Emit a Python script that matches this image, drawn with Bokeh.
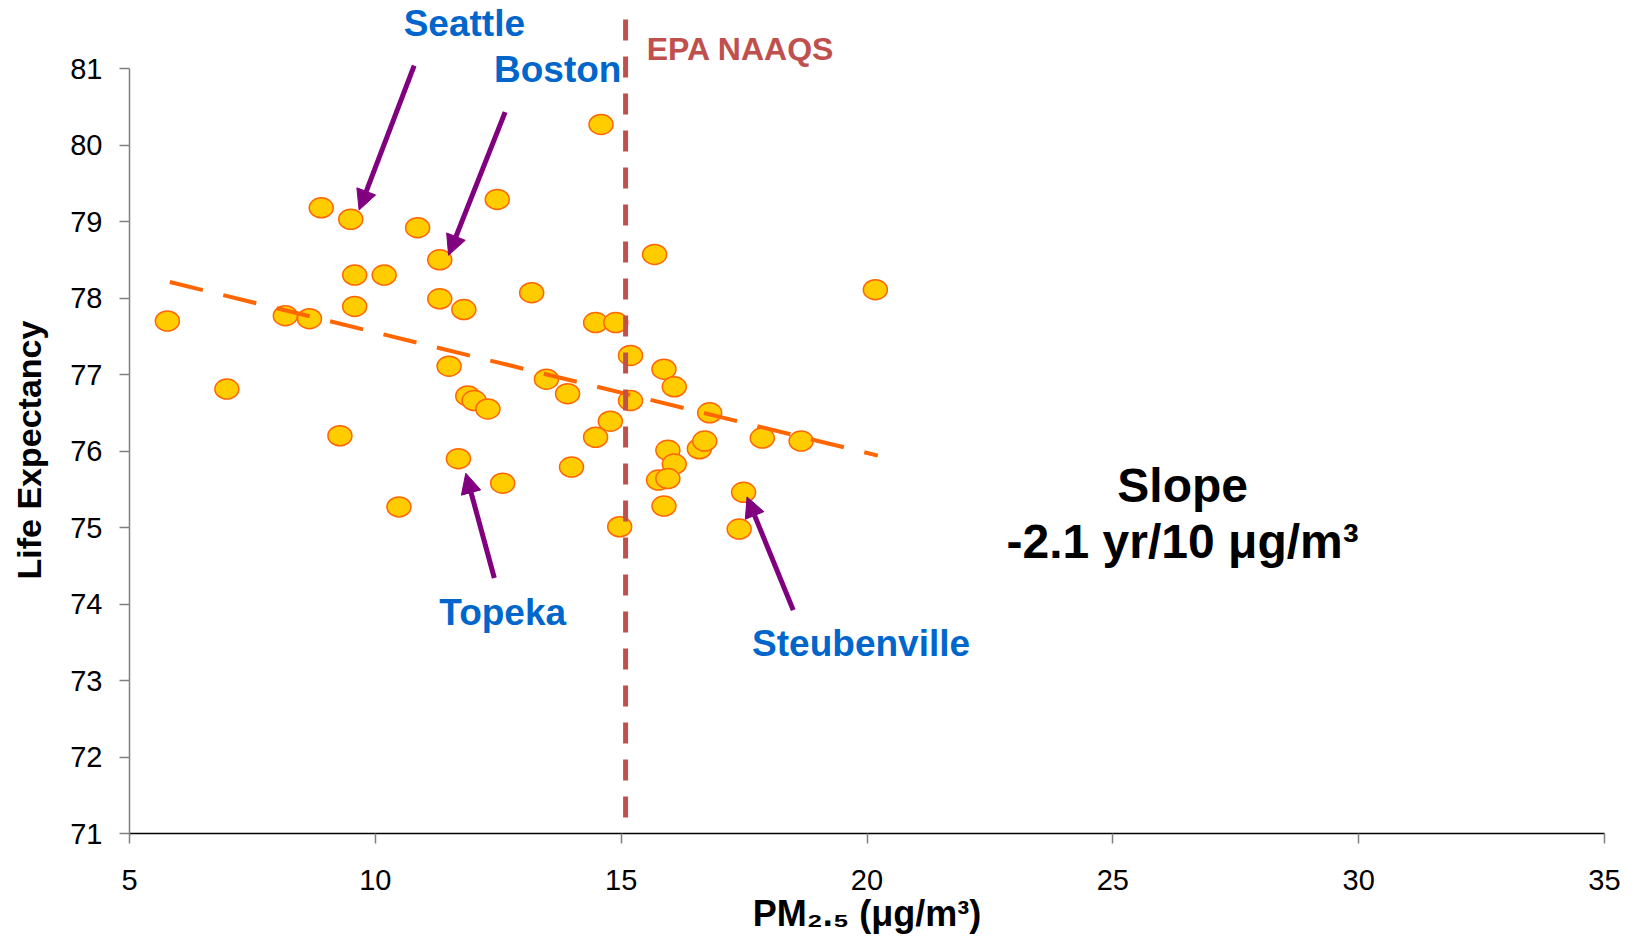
from bokeh.plotting import figure
from bokeh.models import ColumnDataSource, Range1d, FixedTicker, Arrow, NormalHead
from bokeh.core.properties import value
from bokeh.embed import file_html
from bokeh.resources import INLINE

# ---- data ----
pm25 = [5.77, 6.98, 8.17, 8.66, 8.90, 9.50, 9.58, 9.58, 9.28, 10.18,
        10.48, 10.86, 11.31, 11.31, 11.80, 11.50, 11.88, 12.01, 12.29, 11.69,
        12.48, 12.59, 13.18, 13.48, 13.91, 13.99, 14.59, 14.48, 14.89, 14.48,
        14.78, 15.19, 15.19, 14.97, 15.68, 15.87, 16.08, 15.95, 16.08, 15.76,
        15.95, 15.87, 16.59, 16.70, 16.80, 17.49, 17.40, 17.87, 18.66, 20.17]
life_exp = [77.70, 76.81, 77.77, 77.73, 79.18, 79.03, 78.30, 77.89, 76.20, 78.30,
            75.27, 78.92, 78.50, 77.99, 77.85, 77.11, 76.72, 76.66, 76.55, 75.90,
            79.29, 75.58, 78.07, 76.94, 76.75, 75.79, 80.27, 77.68, 77.68, 76.18,
            76.39, 77.25, 76.66, 75.01, 78.57, 77.07, 76.84, 76.01, 75.83, 75.62,
            75.64, 75.28, 76.03, 76.13, 76.50, 75.46, 74.98, 76.17, 76.13, 78.11]

trend_x = [5.82, 20.22]
trend_y = [78.21, 75.94]

naaqs_x = [15.09, 15.09]
naaqs_y = [81.64, 71.10]

x_ticks = [5, 10, 15, 20, 25, 30, 35]
y_ticks = [71, 72, 73, 74, 75, 76, 77, 78, 79, 80, 81]

city_names = ["Seattle", "Boston", "Topeka", "Steubenville"]
city_label_x = [11.81, 13.71, 12.59, 19.88]
city_label_y = [81.59, 80.99, 73.89, 73.49]
arrow_x0 = [10.79, 12.64, 12.42, 18.50]
arrow_y0 = [81.04, 80.43, 74.34, 73.92]
arrow_x1 = [9.67, 11.49, 11.84, 17.56]
arrow_y1 = [79.15, 78.56, 75.71, 75.40]

slope_lines = ["Slope", "-2.1 yr/10 μg/m³"]
slope_x = [26.42, 26.42]
slope_y = [75.55, 74.82]

naaqs_label = ["EPA NAAQS"]
naaqs_label_x = [17.43]
naaqs_label_y = [81.26]

FONT = "Liberation Sans"

p = figure(width=1636, height=938, output_backend="svg", toolbar_location=None,
           x_range=Range1d(5, 35), y_range=Range1d(71, 81.89),
           min_border_left=129, min_border_right=32, min_border_top=0,
           min_border_bottom=105)
p.outline_line_color = None
p.grid.visible = False
p.background_fill_color = "white"

# axes
p.xaxis.ticker = FixedTicker(ticks=x_ticks)
p.yaxis.ticker = FixedTicker(ticks=y_ticks)
p.xaxis.bounds = (5, 35)
p.yaxis.bounds = (71, 81)
for ax in (p.xaxis, p.yaxis):
    ax.major_tick_out = 10
    ax.major_tick_in = 0
    ax.minor_tick_line_color = None
    ax.major_tick_line_color = "#808080"
    ax.major_tick_line_width = 1.5
    ax.major_label_text_font = FONT
    ax.major_label_text_font_size = "29px"
    ax.major_label_text_color = "black"
    ax.axis_label_text_font = FONT
    ax.axis_label_text_font_style = "bold"
    ax.axis_label_text_color = "black"
p.yaxis.axis_line_color = "#808080"
p.yaxis.axis_line_width = 1.5
p.xaxis.axis_line_color = "black"
p.xaxis.axis_line_width = 1.5
p.yaxis.major_label_standoff = 17
p.xaxis.major_label_standoff = 26
# trailing no-break spaces keep the title centred on the 71-81 span of the axis
p.yaxis.axis_label = "Life Expectancy" + "\u00a0" * 7
p.yaxis.axis_label_text_font_size = "34px"
p.yaxis.axis_label_standoff = 19
p.xaxis.axis_label = "PM₂.₅ (μg/m³)"
p.xaxis.axis_label_text_font_size = "36px"
p.xaxis.axis_label_standoff = 0

# points
pts = ColumnDataSource(dict(x=pm25, y=life_exp))
p.ellipse(x="x", y="y", width=24, height=20, width_units="screen", height_units="screen",
          source=pts, fill_color="#FFCC00", line_color="#FF6600", line_width=1.5)

# trend line
p.line(trend_x, trend_y, line_color="#FF6600", line_width=4, line_dash="34 21")

# EPA NAAQS line
p.line(naaqs_x, naaqs_y, line_color="#C0504D", line_width=5, line_dash="21 16")

# arrows
arr_src = ColumnDataSource(dict(x0=arrow_x0, y0=arrow_y0, x1=arrow_x1, y1=arrow_y1))
p.add_layout(Arrow(end=NormalHead(size=20, fill_color="#800080", line_color="#800080"),
                   x_start="x0", y_start="y0", x_end="x1", y_end="y1", source=arr_src,
                   line_color="#800080", line_width=5))

# labels
p.text(x=city_label_x, y=city_label_y, text=city_names, text_font=value(FONT),
       text_font_style="bold", text_font_size="37px", text_color="#0066CC",
       text_align="center", text_baseline="middle")
p.text(x=slope_x, y=slope_y, text=slope_lines, text_font=value(FONT),
       text_font_style="bold", text_font_size="48px", text_color="black",
       text_align="center", text_baseline="middle")
p.text(x=naaqs_label_x, y=naaqs_label_y, text=naaqs_label, text_font=value(FONT),
       text_font_style="bold", text_font_size="32px", text_color="#C0504D",
       text_align="center", text_baseline="middle")

open("out.html", "w").write(file_html(p, INLINE))
